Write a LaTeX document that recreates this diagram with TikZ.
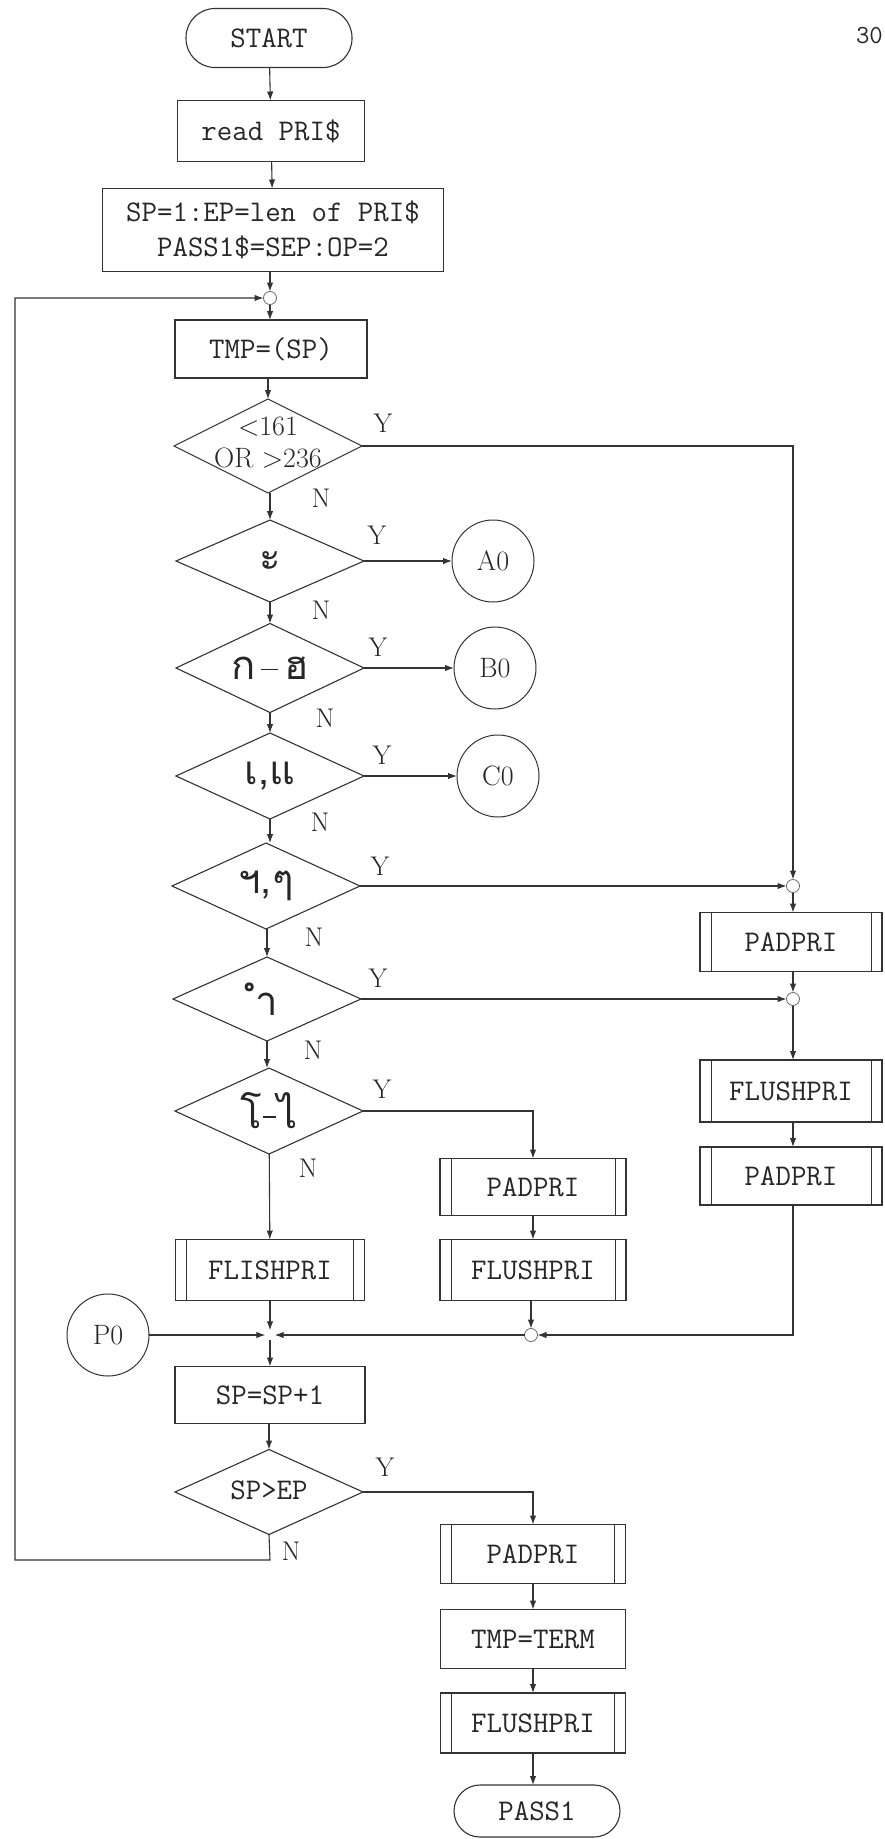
\documentclass[tikz,border=0pt]{standalone}
\usepackage{fontspec}
\newfontfamily\thaifont[Script=Thai]{Loma}
\usetikzlibrary{shapes.geometric,arrows.meta,calc}
\begin{document}
\begin{tikzpicture}[x=1pt,y=-1pt,
  every node/.style={font=\fontsize{30}{35}\selectfont\ttfamily, text=black!85},
  ln/.style={draw=black!80, line width=1.1pt},
  arr/.style={ln, -{Latex[length=9pt,width=6.5pt]}},
  procbox/.style={draw=black!80, line width=1.1pt, rectangle, minimum width=188pt, minimum height=59pt, inner sep=0pt, outer sep=0pt},
  subrbox/.style={procbox, path picture={\draw[black!80, line width=0.9pt]
      ([xshift=11pt]path picture bounding box.north west) -- ([xshift=11pt]path picture bounding box.south west)
      ([xshift=-11pt]path picture bounding box.north east) -- ([xshift=-11pt]path picture bounding box.south east);}},
  termbox/.style={draw=black!80, line width=1.1pt, rectangle, inner sep=0pt, outer sep=0pt},
  decbox/.style={diamond, draw=black!80, line width=1.1pt, minimum width=188pt, minimum height=86pt, inner sep=0pt, outer sep=0pt},
  connbox/.style={circle, draw=black!80, line width=1pt, minimum size=82pt, inner sep=0pt, outer sep=0pt, font=\fontsize{28}{30}\selectfont\rmfamily},
  jn/.style={circle, draw=black!60, line width=0.8pt, minimum size=13pt, inner sep=0pt, outer sep=0pt},
  yn/.style={font=\fontsize{27}{30}\selectfont\rmfamily},
  thai/.style={font=\thaifont\fontsize{40}{44}\selectfont}
]
\useasboundingbox (0,0) rectangle (884,1839);
\fill[white] (0,0) rectangle (884,1839);

% page number at the right edge
\node[anchor=east, font=\fontsize{26}{30}\selectfont\ttfamily, inner sep=1pt] (pg) at (884,36) {30};

% main column
\node[termbox, minimum width=166pt, minimum height=59pt, rounded corners=29pt] (start) at (269,38) {START};
\node[procbox, minimum width=187pt, minimum height=61pt] (read) at (271,131) {read PRI\$};
\node[procbox, minimum width=341pt, minimum height=83pt, align=center] (init) at (273,230) {SP=1:EP=len of PRI\$\\PASS1\$=SEP:OP=2};
\node[jn] (j1) at (270,298) {};
\node[procbox, minimum width=192pt, minimum height=58pt] (tmp) at (271,349) {TMP=(SP)};

\node[decbox, minimum height=94pt] (d1) at (268,446) {};
\node[font=\fontsize{28}{32}\selectfont\rmfamily, align=center] (d1t) at (268,443) {<161\\OR >236};
\node[decbox, minimum height=82pt] (d2) at (270,561) {};
\node[thai] (d2t) at (270,561) {ะ};
\node[decbox, minimum height=89pt] (d3) at (270,668) {};
\node[thai] (d3t) at (270,668) {ก\hspace{6pt}\rule[9pt]{17pt}{1.6pt}\hspace{6pt}ฮ};
\node[decbox, minimum height=86pt] (d4) at (270,776) {};
\node[thai] (d4t) at (270,776) {เ,แ};
\node[decbox, minimum height=86pt] (d5) at (266,886) {};
\node[thai] (d5t) at (266,886) {ฯ,ๆ};
\node[decbox, minimum height=84pt] (d6) at (267,999) {};
\node[thai] (d6t) at (267,999) {ำ};
\node[decbox, minimum height=86pt] (d7) at (269,1111) {};
\node[thai] (d7t) at (269,1111) {โ\hspace{1pt}\rule[11pt]{13pt}{1.6pt}\hspace{1pt}ไ};

% connectors A0 B0 C0
\node[connbox] (a0) at (493,561) {A0};
\node[connbox] (b0) at (495,668) {B0};
\node[connbox] (c0) at (498,776) {C0};

% right column
\node[jn] (r1) at (793,886) {};
\node[subrbox, minimum width=182pt, minimum height=59pt] (padR) at (791,942) {PADPRI};
\node[jn] (r2) at (793,999) {};
\node[subrbox, minimum width=182pt, minimum height=62pt] (flushR) at (791,1091) {FLUSHPRI};
\node[subrbox, minimum width=182pt, minimum height=58pt] (padR2) at (791,1176) {PADPRI};

% middle column
\node[subrbox, minimum width=186pt, minimum height=57pt] (pm) at (533,1187) {PADPRI};
\node[subrbox, minimum width=186pt, minimum height=61pt] (fm) at (533,1270) {FLUSHPRI};
\node[jn] (mj) at (531,1335) {};

% left lower
\node[subrbox, minimum width=189pt, minimum height=61pt] (fl) at (270,1270) {FLISHPRI};
\node[circle, minimum size=9pt, inner sep=0pt] (jm) at (270,1335) {};
\node[connbox] (p0) at (108,1335) {P0};
\node[procbox, minimum width=190pt, minimum height=57pt] (inc) at (270,1395) {SP=SP+1};
\node[decbox, minimum height=85pt] (d8) at (269,1492) {};
\node (d8t) at (269,1490) {SP>EP};

% bottom column
\node[subrbox, minimum width=185pt, minimum height=59pt] (pb) at (533,1554) {PADPRI};
\node[procbox, minimum width=185pt, minimum height=59pt] (tt) at (533,1639) {TMP=TERM};
\node[subrbox, minimum width=185pt, minimum height=60pt] (fb) at (533,1723) {FLUSHPRI};
\node[termbox, minimum width=166pt, minimum height=52pt, rounded corners=26pt] (pass) at (537,1811) {PASS1};

% Y / N labels
\node[yn] (y1) at (383,423) {Y};
\node[yn] (n1) at (321,498) {N};
\node[yn] (y2) at (377,535) {Y};
\node[yn] (n2) at (321,610) {N};
\node[yn] (y3) at (378,647) {Y};
\node[yn] (n3) at (325,718) {N};
\node[yn] (y4) at (382,755) {Y};
\node[yn] (n4) at (320,822) {N};
\node[yn] (y5) at (380,866) {Y};
\node[yn] (n5) at (314,937) {N};
\node[yn] (y6) at (378,978) {Y};
\node[yn] (n6) at (313,1050) {N};
\node[yn] (y7) at (382,1089) {Y};
\node[yn] (n7) at (308,1168) {N};
\node[yn] (y8) at (385,1467) {Y};
\node[yn] (n8) at (291,1551) {N};

% loop coordinates
\coordinate (lpA) at (270,1560);
\coordinate (lpB) at (15,1560);
\coordinate (lpC) at (15,298);

% edges
\draw[arr] (start) -- (read);
\draw[arr] (read) -- (init);
\draw[arr] (init.south -| j1) -- (j1);
\draw[arr] (j1) -- (tmp.north -| j1);
\draw[arr] (tmp.south -| d1) -- (d1);
\draw[arr] (d1.south -| d2) -- (d2);
\draw[arr] (d2) -- (d3);
\draw[arr] (d3) -- (d4);
\draw[arr] (d4) -- (d5.north -| d4);
\draw[arr] (d5.south -| d6) -- (d6);
\draw[arr] (d6) -- (d7.north -| d6);
\draw[arr] (d1.east) -| (r1);
\draw[arr] (d2.east) -- (a0);
\draw[arr] (d3.east) -- (b0);
\draw[arr] (d4.east) -- (c0);
\draw[arr] (d5.east) -- (r1);
\draw[arr] (d6.east) -- (r2);
\draw[arr] (r1) -- (padR.north -| r1);
\draw[arr] (padR.south -| r2) -- (r2);
\draw[arr] (r2) -- (flushR.north -| r2);
\draw[arr] (flushR.south -| r2) -- (padR2.north -| r2);
\draw[arr] (padR2.south -| r2) |- (mj);
\draw[arr] (d7.east) -| (pm);
\draw[arr] (pm) -- (fm);
\draw[arr] (fm.south -| mj) -- (mj);
\draw[arr] (mj) -- (jm);
\draw[arr] (d7) -- (fl);
\draw[arr] (fl) -- (jm);
\draw[arr] (p0) -- (jm);
\draw[arr] (jm) -- (inc);
\draw[arr] (inc.south -| d8) -- (d8);
\draw[arr] (d8.east) -| (pb);
\draw[arr] (pb) -- (tt);
\draw[arr] (tt) -- (fb);
\draw[arr] (fb.south) -- (pass.north -| fb);
\draw[arr] (d8.south) -- (lpA) -- (lpB) -- (lpC) -- (j1);
\end{tikzpicture}
\end{document}
